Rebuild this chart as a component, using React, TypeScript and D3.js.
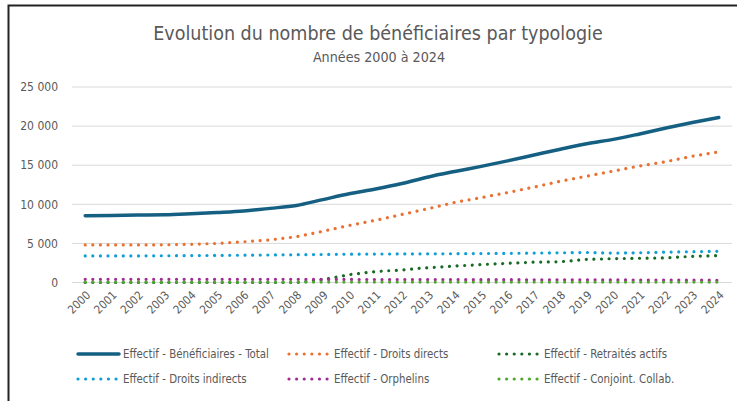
import React from "react"
import * as d3 from "d3"

const years = ["2000", "2001", "2002", "2003", "2004", "2005", "2006", "2007", "2008", "2009", "2010", "2011", "2012", "2013", "2014", "2015", "2016", "2017", "2018", "2019", "2020", "2021", "2022", "2023", "2024"]

const total = [8550, 8580, 8620, 8650, 8780, 8950, 9150, 9480, 9850, 10600, 11350, 11950, 12650, 13500, 14200, 14850, 15550, 16300, 17050, 17750, 18300, 19000, 19750, 20450, 21100]
const directs = [4800, 4800, 4800, 4820, 4880, 5000, 5200, 5450, 5850, 6550, 7300, 7950, 8700, 9450, 10250, 10850, 11500, 12200, 12950, 13600, 14250, 14900, 15450, 16150, 16700]
const retraites = [0, 0, 0, 0, 0, 0, 0, 0, 0, 350, 1000, 1400, 1600, 1900, 2100, 2300, 2450, 2600, 2650, 2950, 3050, 3100, 3150, 3350, 3450]
const indirects = [3400, 3400, 3400, 3420, 3440, 3460, 3490, 3520, 3550, 3580, 3620, 3640, 3650, 3660, 3680, 3700, 3730, 3760, 3800, 3840, 3760, 3800, 3880, 3940, 3990]
const orphelins = [400, 400, 400, 400, 400, 400, 400, 400, 400, 400, 390, 380, 380, 370, 370, 360, 360, 350, 350, 340, 330, 320, 310, 300, 290]
const conjoint = [50, 50, 50, 50, 50, 50, 50, 50, 50, 50, 50, 50, 50, 50, 50, 50, 50, 50, 50, 50, 50, 50, 50, 50, 50]

const yTicks = [0, 5000, 10000, 15000, 20000, 25000]

const series = [
  { name: "Effectif - Bénéficiaires - Total", values: total, color: "#156082", dotted: false },
  { name: "Effectif - Droits directs", values: directs, color: "#E97132", dotted: true },
  { name: "Effectif - Retraités actifs", values: retraites, color: "#196B24", dotted: true },
  { name: "Effectif - Droits indirects", values: indirects, color: "#0F9ED5", dotted: true },
  { name: "Effectif - Orphelins", values: orphelins, color: "#A02B93", dotted: true },
  { name: "Effectif - Conjoint. Collab.", values: conjoint, color: "#4EA72E", dotted: true },
]

const font = "'DejaVu Sans Condensed', 'Liberation Sans', sans-serif"
const textColor = "#595959"

const App = () => {
  const width = 737
  const height = 401
  const left = 72
  const right = 732
  const top = 87
  const bottom = 282.5

  const x = d3.scalePoint<string>().domain(years).range([left, right]).padding(0.5)
  const y = d3.scaleLinear().domain([0, 25000]).range([bottom, top])
  const fmt = (v: number) => d3.format(",")(v).replace(/,/g, " ")

  const line = d3
    .line<number>()
    .x((_, i) => x(years[i]) as number)
    .y((d) => y(d))

  const smooth = d3
    .line<number>()
    .x((_, i) => x(years[i]) as number)
    .y((d) => y(d))
    .curve(d3.curveMonotoneX)

  const legendCols = [77, 288, 498]
  const legendRows = [354, 379]
  const dots = "0.01 7.6"

  return (
    <svg width={width} height={height} style={{ position: "absolute", left: 0, top: 0, background: "#fff" }} fontFamily={font}>
      <rect x={0} y={0} width={width} height={height} fill="#fff" />
      <path d={`M8.5,${height + 5} L8.5,5.5 L${width + 5},5.5`} fill="none" stroke="#222" strokeWidth={2} />

      <text x={378} y={40} textAnchor="middle" fontSize={19.5} fill={textColor}>
        Evolution du nombre de bénéficiaires par typologie
      </text>
      <text x={379} y={62} textAnchor="middle" fontSize={14.2} fill={textColor}>
        Années 2000 à 2024
      </text>

      {yTicks.map((t) => (
        <g key={t}>
          <line x1={left} x2={right} y1={y(t)} y2={y(t)} stroke="#D9D9D9" strokeWidth={1} />
          <text x={58} y={y(t)} dy="0.35em" textAnchor="end" fontSize={12} fill={textColor}>
            {fmt(t)}
          </text>
        </g>
      ))}

      {years.map((yr) => (
        <text
          key={yr}
          transform={`translate(${(x(yr) as number) + 3},${293}) rotate(-45)`}
          textAnchor="end"
          dy="0.35em"
          fontSize={11.5}
          fill={textColor}
        >
          {yr}
        </text>
      ))}

      {series.map((s) => (
        <path
          key={s.name}
          d={(s.dotted ? line : smooth)(s.values) || ""}
          fill="none"
          stroke={s.color}
          strokeWidth={s.dotted ? 3.2 : 3.5}
          strokeLinecap="round"
          strokeLinejoin="round"
          strokeDasharray={s.dotted ? dots : undefined}
        />
      ))}

      {series.map((s, i) => {
        const lx = legendCols[i % 3]
        const ly = legendRows[Math.floor(i / 3)]
        return (
          <g key={s.name}>
            <line
              x1={lx + 1}
              x2={lx + 42}
              y1={ly}
              y2={ly}
              stroke={s.color}
              strokeWidth={s.dotted ? 3.2 : 3.5}
              strokeLinecap="round"
              strokeDasharray={s.dotted ? dots : undefined}
            />
            <text x={lx + 46} y={ly} dy="0.35em" fontSize={11.4} fill={textColor}>
              {s.name}
            </text>
          </g>
        )
      })}
    </svg>
  )
}

export default App
